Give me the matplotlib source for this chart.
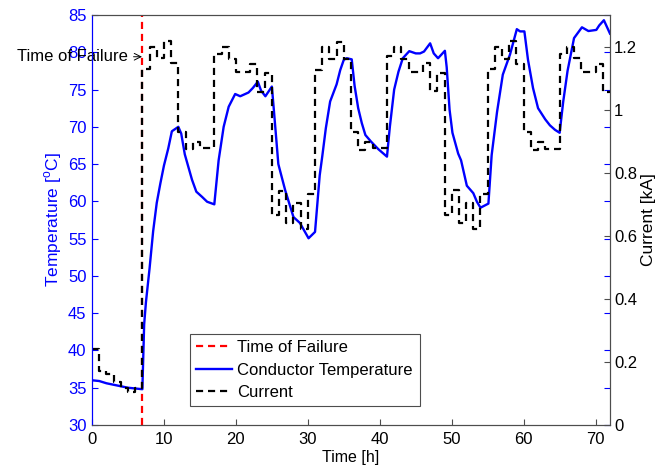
import matplotlib
matplotlib.use("Agg")
import matplotlib.pyplot as plt

plt.rcParams['font.family'] = ['Liberation Sans', 'DejaVu Sans']
plt.rcParams['mathtext.fontset'] = 'custom'
plt.rcParams['mathtext.rm'] = 'Liberation Sans'

# Conductor temperature samples (time in h, temperature in degC)
temp_time = [0, 1, 2, 3, 4, 5, 6, 7,
             7.25, 7.5, 8.0, 8.5, 9.0, 9.5, 10.0, 10.6, 11.1, 11.7, 12.0, 12.4,
             12.9, 13.9, 14.5, 15.3, 16.0, 17.0,
             17.6, 18.3, 19.0, 19.9, 20.6, 21.75, 22.35, 23.05, 23.5, 24.1, 25.0,
             25.3, 25.9, 26.85, 28.0, 28.9, 30.1, 31.0,
             31.65, 32.0, 32.5, 33.1, 34.0, 34.5, 35.0, 35.4, 36.1,
             36.5, 37.0, 37.5, 38.0, 38.8, 39.8, 41.0,
             41.4, 42.0, 42.6, 43.2, 44.1, 45.0, 45.6, 46.15, 47.0, 47.5, 48.1, 49.05,
             49.3, 49.7, 50.1, 50.9, 51.3, 52.1, 53.0, 53.5, 54.0, 55.1,
             55.55, 56.3, 57.1, 58.1, 59.05, 59.5, 60.1,
             60.6, 61.3, 62.0, 63.0, 63.65, 64.35, 65.0,
             65.5, 66.1, 67.0, 68.1, 69.0, 70.1, 70.5, 71.15, 72.0]
temperature = [36.0, 35.9, 35.6, 35.4, 35.2, 35.0, 34.9, 34.8,
               43.5, 46.5, 51.0, 56.0, 59.8, 62.4, 64.8, 67.1, 69.4, 69.8, 70.0, 69.1,
               66.3, 62.9, 61.3, 60.6, 59.95, 59.6,
               65.5, 70.0, 72.7, 74.4, 74.1, 74.6, 75.2, 76.05, 74.85, 74.1, 75.4,
               72.0, 65.0, 61.5, 57.9, 57.1, 55.05, 55.9,
               63.5, 66.0, 69.8, 73.4, 75.7, 77.6, 79.0, 79.2, 79.05,
               75.5, 72.5, 70.5, 68.9, 68.0, 67.0, 66.0,
               70.0, 75.0, 77.4, 79.2, 80.15, 79.85, 79.85, 80.1, 81.2, 79.85, 79.2, 80.2,
               78.0, 72.3, 69.2, 66.4, 65.5, 62.1, 61.1, 59.95, 59.15, 59.7,
               66.2, 72.0, 77.0, 79.7, 83.1, 82.8, 82.8,
               79.0, 75.2, 72.5, 71.0, 70.2, 69.6, 69.2,
               73.4, 77.5, 81.9, 83.35, 82.85, 83.0, 83.6, 84.3, 82.5]

# Hourly load current in kA, value held over [h, h+1)
current_hours = list(range(0, 73))
current_ka = [0.240, 0.171, 0.162, 0.137, 0.116, 0.106, 0.118,
              1.130, 1.200, 1.165, 1.218, 1.148, 0.930, 0.874, 0.898, 0.877, 0.877,
              1.175, 1.197, 1.162, 1.120, 1.120, 1.146, 1.056, 1.117,
              0.666, 0.743, 0.639, 0.705, 0.620, 0.734,
              1.127, 1.199, 1.162, 1.215, 1.162, 0.930, 0.872, 0.898, 0.877, 0.877,
              1.170, 1.199, 1.162, 1.120, 1.120, 1.148, 1.060, 1.117,
              0.666, 0.745, 0.639, 0.705, 0.620, 0.734,
              1.130, 1.199, 1.162, 1.217, 1.146, 0.930, 0.872, 0.898, 0.875, 0.875,
              1.175, 1.199, 1.164, 1.120, 1.120, 1.146, 1.057, 1.057]

failure_time = 7.0

x_ticks = [0, 10, 20, 30, 40, 50, 60, 70]
temp_ticks = [30, 35, 40, 45, 50, 55, 60, 65, 70, 75, 80, 85]
current_ticks = [0, 0.2, 0.4, 0.6, 0.8, 1.0, 1.2]

blue = '#0000ff'
grey = '#4d4d4d'
fs = 12

fig = plt.figure(figsize=(6.56, 4.68), dpi=100)
ax = fig.add_axes([92 / 656, 1 - 425 / 468, 518 / 656, 410 / 468])
ax2 = ax.twinx()

h_fail, = ax.plot([failure_time, failure_time], [30, 85], color='red',
                  linestyle=(0, (3.2, 2.2)), linewidth=1.6, label='Time of Failure')
h_temp, = ax.plot(temp_time, temperature, color=blue, linewidth=1.7,
                  label='Conductor Temperature')
h_cur, = ax2.plot(current_hours, current_ka, color='black', drawstyle='steps-post',
                  linestyle=(0, (3.2, 2.2)), linewidth=1.6, label='Current')

ax.set_xlim(0, 72)
ax.set_ylim(30, 85)
ax2.set_ylim(0, 1.3)
ax.set_xticks(x_ticks)
ax.set_yticks(temp_ticks)
ax2.set_yticks(current_ticks)
ax2.set_yticklabels(['0', '0.2', '0.4', '0.6', '0.8', '1', '1.2'])

ax.tick_params(axis='x', direction='in', length=4, width=0.8, color=grey,
               labelsize=fs, labelcolor='black', pad=5)
ax.tick_params(axis='y', direction='in', length=4, width=0.8, color=blue,
               labelsize=fs, labelcolor=blue, right=True, pad=4)
ax2.tick_params(axis='y', direction='in', length=4, width=0.8, color=grey,
                labelsize=fs, labelcolor='black', pad=3)

for a in (ax, ax2):
    for side in ('top', 'bottom', 'right'):
        a.spines[side].set_color(grey)
        a.spines[side].set_linewidth(0.8)
    a.spines['left'].set_color(blue)
    a.spines['left'].set_linewidth(0.8)

ax.set_xlabel('Time [h]', fontsize=11.5, labelpad=2)
ax.set_ylabel('Temperature [$^{\\mathrm{o}}$C]', fontsize=12.5, color=blue, labelpad=3)
ax2.set_ylabel('Current [kA]', fontsize=12.5, color='black', labelpad=3)

ax.annotate('Time of Failure', xy=(failure_time - 0.05, 79.4),
            xytext=(5.0, 79.4), ha='right', va='center', fontsize=fs,
            annotation_clip=False,
            arrowprops=dict(arrowstyle='->', color='black', lw=0.7,
                            shrinkA=2, shrinkB=0))

leg = ax2.legend(handles=[h_fail, h_temp, h_cur], loc='lower left',
                 bbox_to_anchor=(0.189, 0.046, 0.444, 0.173), mode='expand',
                 fontsize=fs, frameon=True, fancybox=False, framealpha=1,
                 edgecolor=grey, handlelength=2.2, handletextpad=0.3,
                 borderpad=0.35, labelspacing=0.45, borderaxespad=0)
leg.get_frame().set_linewidth(0.8)

fig.savefig('out.png', dpi=100)
